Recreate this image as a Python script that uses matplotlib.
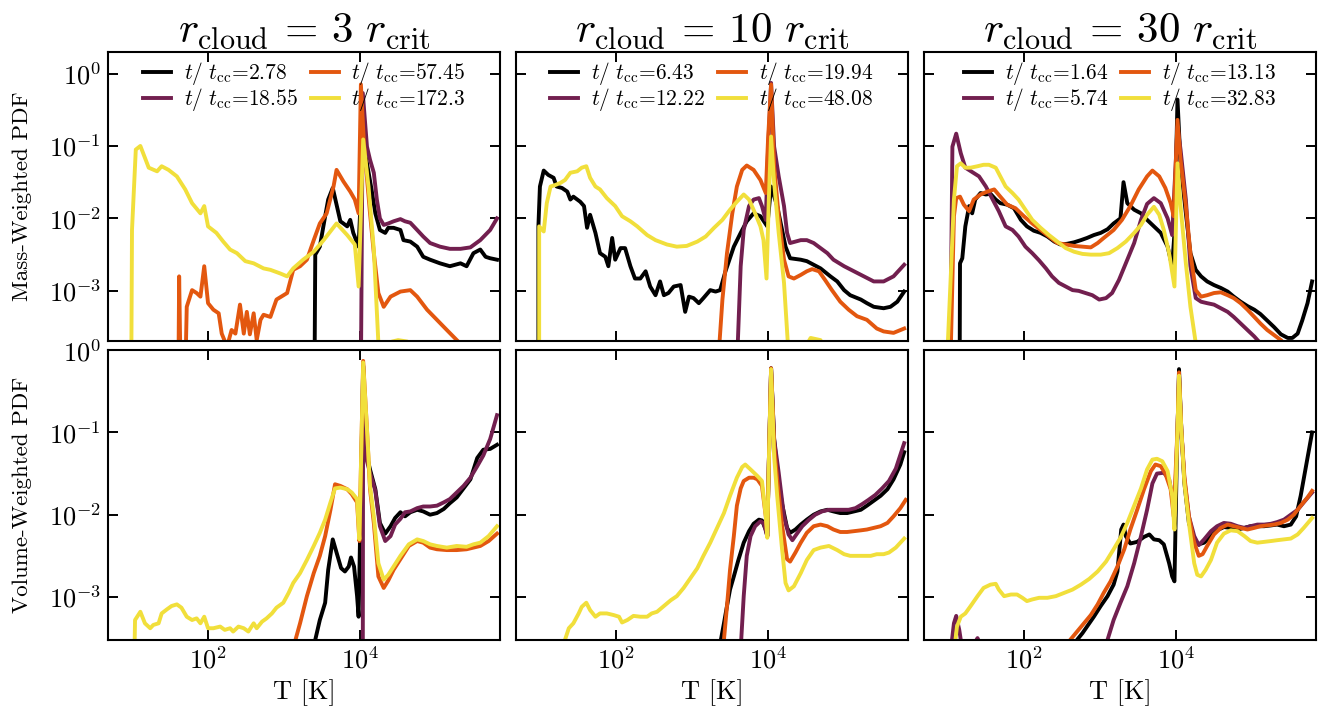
import numpy as np
import matplotlib
matplotlib.use('Agg')
import matplotlib.pyplot as plt
from matplotlib.ticker import NullLocator, LogLocator

plt.rcParams['font.family'] = 'serif'
plt.rcParams['font.serif'] = ['cmr10']
plt.rcParams['mathtext.fontset'] = 'cm'
plt.rcParams['axes.formatter.use_mathtext'] = True
plt.rcParams['axes.unicode_minus'] = False

# temperature PDFs, stored as (log10 T [K], log10 PDF) pairs
# ---- mass weighted ----
mw3_k = [(3.40,-4.2),(3.41,-2.50),(3.47,-2.39),(3.54,-1.97),(3.58,-1.74),(3.64,-1.58),(3.69,-1.81),(3.74,-2.04),
         (3.78,-2.07),(3.83,-2.11),(3.87,-2.02),(3.91,-2.20),(3.98,-2.39),(4.04,-0.96),(4.09,-1.24),(4.15,-1.60),
         (4.20,-1.93),(4.26,-2.16),(4.33,-2.20),(4.37,-2.13),(4.44,-2.13),(4.53,-2.16),(4.57,-2.30),(4.66,-2.32),
         (4.75,-2.39),(4.83,-2.53),(4.92,-2.57),(5.05,-2.62),(5.18,-2.66),(5.32,-2.62),(5.40,-2.66),(5.49,-2.48),
         (5.58,-2.43),(5.65,-2.53),(5.71,-2.55),(5.80,-2.57)]
mw3_p = [(4.01,-4.2),(4.035,-0.27),(4.09,-1.01),(4.13,-1.19),(4.18,-1.37),(4.22,-1.74),(4.26,-2.00),(4.31,-2.09),
         (4.37,-2.07),(4.44,-2.04),(4.53,-2.01),(4.59,-2.04),(4.66,-2.06),(4.75,-2.16),(4.83,-2.25),(4.92,-2.34),
         (5.05,-2.39),(5.18,-2.42),(5.32,-2.42),(5.45,-2.40),(5.58,-2.30),(5.71,-2.16),(5.80,-2.00)]
mw3_o = [(1.61,-4.2),(1.62,-2.80),(1.64,-4.2),(1.70,-4.2),(1.72,-3.22),(1.79,-2.99),(1.85,-3.03),(1.90,-3.08),
         (1.95,-2.66),(2.00,-3.17),(2.07,-3.26),(2.14,-3.31),(2.18,-3.59),(2.25,-3.77),(2.31,-3.54),(2.36,-3.59),
         (2.42,-3.19),(2.47,-3.59),(2.51,-3.29),(2.55,-3.60),(2.60,-3.31),(2.64,-3.68),(2.69,-3.40),(2.73,-3.33),
         (2.82,-3.36),(2.90,-3.12),(3.04,-3.03),(3.12,-2.71),(3.21,-2.66),(3.30,-2.57),(3.39,-2.30),(3.47,-2.07),
         (3.56,-1.93),(3.65,-1.56),(3.69,-1.33),(3.78,-1.49),(3.87,-1.63),(3.93,-1.74),(3.98,-1.93),(4.01,-0.15),
         (4.05,-0.96),(4.13,-1.93),(4.18,-2.48),(4.24,-3.03),(4.31,-3.22),(4.40,-3.08),(4.53,-3.01),(4.66,-2.99),
         (4.75,-3.08),(4.88,-3.26),(5.01,-3.40),(5.14,-3.54),(5.29,-3.70),(5.40,-3.82)]
mw3_y = [(0.99,-4.2),(1.00,-2.16),(1.05,-1.05),(1.11,-1.00),(1.22,-1.30),(1.33,-1.35),(1.39,-1.28),(1.48,-1.33),
         (1.59,-1.42),(1.70,-1.60),(1.79,-1.79),(1.90,-1.93),(1.95,-1.83),(2.00,-2.11),(2.11,-2.20),(2.20,-2.32),
         (2.29,-2.43),(2.38,-2.48),(2.49,-2.59),(2.60,-2.62),(2.73,-2.69),(2.82,-2.71),(2.95,-2.76),(3.04,-2.80),
         (3.12,-2.69),(3.25,-2.57),(3.39,-2.46),(3.52,-2.30),(3.69,-2.07),(3.83,-2.23),(3.93,-2.36),(3.98,-2.94),
         (4.04,-0.91),(4.11,-1.56),(4.18,-2.43),(4.24,-3.72),(4.31,-3.86),(4.42,-3.70),(4.50,-3.68),(4.62,-3.70),
         (4.70,-3.85),(4.80,-4.3)]

mw10_k = [(0.98,-4.2),(0.98,-2.11),(1.00,-1.56),(1.05,-1.34),(1.11,-1.40),(1.18,-1.44),(1.22,-1.56),(1.29,-1.58),
          (1.36,-1.63),(1.40,-1.74),(1.44,-1.70),(1.53,-1.77),(1.58,-1.83),(1.62,-2.13),(1.66,-1.95),(1.73,-2.20),
          (1.79,-2.48),(1.86,-2.53),(1.90,-2.66),(1.95,-2.27),(1.99,-2.57),(2.06,-2.41),(2.12,-2.41),(2.19,-2.66),
          (2.25,-2.83),(2.32,-2.83),(2.39,-2.73),(2.45,-2.94),(2.52,-3.06),(2.58,-2.87),(2.63,-3.06),(2.69,-3.03),
          (2.76,-2.94),(2.85,-2.92),(2.91,-3.29),(2.96,-3.08),(3.02,-3.10),(3.09,-3.17),(3.15,-3.10),(3.24,-2.99),
          (3.31,-3.01),(3.37,-2.99),(3.44,-2.73),(3.55,-2.39),(3.64,-2.20),(3.72,-2.04),(3.81,-1.93),(3.90,-1.97),
          (3.99,-2.11),(4.04,-1.56),(4.12,-1.83),(4.23,-2.39),(4.29,-2.55),(4.43,-2.57),(4.51,-2.59),(4.60,-2.64),
          (4.69,-2.69),(4.82,-2.80),(4.91,-2.87),(5.00,-2.99),(5.08,-3.06),(5.22,-3.12),(5.30,-3.17),(5.39,-3.22),
          (5.52,-3.24),(5.61,-3.22),(5.70,-3.15),(5.79,-3.01)]
mw10_p = [(3.585,-4.2),(3.64,-2.66),(3.68,-2.16),(3.75,-1.83),(3.81,-1.74),(3.88,-1.72),(3.92,-1.83),(3.97,-2.02),
          (4.00,-1.05),(4.04,-0.13),(4.08,-1.01),(4.14,-1.42),(4.21,-1.83),(4.25,-2.20),(4.29,-2.34),(4.36,-2.32),
          (4.43,-2.30),(4.51,-2.30),(4.60,-2.34),(4.69,-2.41),(4.78,-2.48),(4.86,-2.57),(5.00,-2.66),(5.13,-2.73),
          (5.26,-2.80),(5.39,-2.87),(5.52,-2.87),(5.65,-2.80),(5.79,-2.64)]
mw10_o = [(3.33,-4.2),(3.40,-3.12),(3.46,-2.48),(3.53,-1.93),(3.59,-1.56),(3.66,-1.33),(3.72,-1.27),(3.81,-1.33),
          (3.90,-1.47),(3.97,-1.65),(4.00,-0.91),(4.04,-0.15),(4.08,-1.28),(4.14,-1.97),(4.21,-2.57),(4.27,-2.80),
          (4.34,-2.83),(4.43,-2.78),(4.51,-2.73),(4.58,-2.70),(4.67,-2.73),(4.75,-2.85),(4.84,-2.99),(4.95,-3.15),
          (5.06,-3.26),(5.17,-3.35),(5.30,-3.40),(5.43,-3.52),(5.52,-3.56),(5.65,-3.58),(5.79,-3.52)]
mw10_y = [(0.99,-4.2),(0.99,-2.11),(1.05,-2.18),(1.09,-1.79),(1.14,-1.56),(1.20,-1.54),(1.27,-1.51),(1.33,-1.47),
          (1.40,-1.37),(1.49,-1.35),(1.55,-1.30),(1.61,-1.28),(1.66,-1.44),(1.73,-1.56),(1.79,-1.60),(1.88,-1.72),
          (1.99,-1.83),(2.08,-1.97),(2.19,-2.04),(2.28,-2.11),(2.41,-2.23),(2.52,-2.30),(2.67,-2.36),(2.80,-2.39),
          (2.93,-2.38),(3.07,-2.32),(3.18,-2.25),(3.29,-2.13),(3.40,-2.02),(3.50,-1.88),(3.59,-1.77),(3.68,-1.67),
          (3.75,-1.74),(3.83,-1.93),(3.90,-2.11),(3.94,-2.30),(3.98,-2.83),(4.01,-1.74),(4.04,-0.87),(4.08,-1.51),
          (4.14,-2.20),(4.21,-2.89),(4.26,-3.72),(4.34,-4.05),(4.56,-3.65),(4.69,-3.68),(4.82,-4.05)]

mw30_k = [(1.155,-4.2),(1.16,-2.62),(1.19,-2.55),(1.23,-2.11),(1.28,-1.83),(1.32,-1.93),(1.36,-1.74),(1.43,-1.65),
          (1.50,-1.67),(1.56,-1.66),(1.63,-1.74),(1.69,-1.79),(1.78,-1.81),(1.87,-1.86),(1.96,-2.02),(2.04,-2.11),
          (2.13,-2.17),(2.22,-2.20),(2.31,-2.25),(2.40,-2.32),(2.48,-2.36),(2.57,-2.35),(2.66,-2.33),(2.75,-2.30),
          (2.83,-2.27),(2.92,-2.23),(3.01,-2.20),(3.10,-2.15),(3.18,-2.07),(3.27,-2.00),(3.31,-1.50),(3.36,-1.79),
          (3.45,-1.88),(3.54,-1.93),(3.62,-2.02),(3.71,-2.11),(3.80,-2.20),(3.89,-2.39),(3.95,-2.66),(3.98,-2.20),
          (4.02,-0.36),(4.06,-1.24),(4.13,-1.93),(4.19,-2.48),(4.26,-2.71),(4.33,-2.80),(4.41,-2.87),(4.50,-2.92),
          (4.59,-2.96),(4.68,-3.01),(4.76,-3.08),(4.85,-3.15),(4.94,-3.21),(5.03,-3.26),(5.11,-3.32),(5.20,-3.41),
          (5.29,-3.50),(5.38,-3.60),(5.47,-3.65),(5.53,-3.65),(5.60,-3.59),(5.66,-3.41),(5.73,-3.17),(5.79,-2.87)]
mw30_p = [(1.03,-4.2),(1.06,-1.01),(1.11,-0.83),(1.17,-1.10),(1.23,-1.30),(1.32,-1.36),(1.41,-1.42),(1.50,-1.56),
          (1.58,-1.72),(1.67,-1.90),(1.76,-2.11),(1.85,-2.16),(1.93,-2.25),(2.02,-2.39),(2.11,-2.48),(2.20,-2.58),
          (2.29,-2.69),(2.37,-2.80),(2.46,-2.89),(2.55,-2.94),(2.64,-2.99),(2.72,-3.00),(2.81,-3.03),(2.90,-3.06),
          (2.99,-3.12),(3.08,-3.10),(3.16,-3.03),(3.25,-2.85),(3.36,-2.57),(3.45,-2.34),(3.54,-2.02),(3.62,-1.80),
          (3.71,-1.72),(3.80,-1.79),(3.89,-2.00),(3.95,-2.23),(4.02,-0.73),(4.06,-1.05),(4.13,-1.74),(4.19,-2.66),
          (4.26,-3.10),(4.33,-3.15),(4.41,-3.17),(4.50,-3.19),(4.59,-3.24),(4.68,-3.29),(4.76,-3.36),(4.85,-3.45),
          (4.94,-3.54),(5.03,-3.63),(5.09,-3.70),(5.20,-3.86)]
mw30_o = [(1.03,-4.2),(1.08,-1.97),(1.11,-1.72),(1.16,-1.70),(1.21,-1.81),(1.28,-1.90),(1.34,-1.74),(1.43,-1.67),
          (1.52,-1.63),(1.61,-1.60),(1.69,-1.70),(1.78,-1.81),(1.89,-1.86),(2.00,-1.97),(2.11,-2.07),(2.22,-2.16),
          (2.33,-2.25),(2.44,-2.34),(2.55,-2.36),(2.66,-2.38),(2.77,-2.39),(2.88,-2.40),(2.97,-2.34),(3.05,-2.27),
          (3.18,-2.16),(3.29,-2.02),(3.40,-1.83),(3.51,-1.60),(3.62,-1.42),(3.69,-1.34),(3.78,-1.42),(3.86,-1.58),
          (3.93,-1.79),(3.97,-1.97),(4.02,-0.64),(4.06,-1.19),(4.13,-1.83),(4.19,-2.48),(4.26,-2.99),(4.33,-3.08),
          (4.41,-3.06),(4.50,-3.03),(4.59,-3.02),(4.68,-3.06),(4.76,-3.10),(4.85,-3.17),(4.94,-3.26),(5.03,-3.36),
          (5.11,-3.45),(5.20,-3.54),(5.29,-3.61),(5.38,-3.68),(5.47,-3.77),(5.60,-3.90)]
mw30_y = [(0.98,-4.2),(1.04,-2.76),(1.08,-1.74),(1.12,-1.28),(1.17,-1.24),(1.23,-1.30),(1.30,-1.30),(1.39,-1.28),
          (1.47,-1.26),(1.54,-1.26),(1.63,-1.30),(1.69,-1.42),(1.76,-1.56),(1.85,-1.65),(1.93,-1.74),(2.02,-1.88),
          (2.11,-2.02),(2.22,-2.13),(2.33,-2.23),(2.44,-2.32),(2.55,-2.41),(2.66,-2.46),(2.77,-2.49),(2.88,-2.50),
          (3.01,-2.50),(3.12,-2.48),(3.23,-2.41),(3.34,-2.32),(3.45,-2.20),(3.54,-2.09),(3.62,-1.95),(3.71,-1.84),
          (3.78,-1.95),(3.84,-2.16),(3.91,-2.48),(3.98,-2.94),(4.02,-1.24),(4.06,-1.83),(4.13,-2.62),(4.19,-3.22),
          (4.26,-3.72),(4.33,-4.14)]

# ---- volume weighted ----
vw3_k = [(3.40,-3.8),(3.41,-3.52),(3.47,-3.28),(3.54,-3.07),(3.58,-2.67),(3.64,-2.30),(3.69,-2.46),(3.75,-2.65),
         (3.80,-2.69),(3.85,-2.63),(3.88,-2.52),(3.92,-2.63),(3.96,-2.99),(3.98,-3.24),(4.04,-0.19),(4.09,-1.29),
         (4.13,-1.45),(4.20,-1.69),(4.26,-2.10),(4.33,-2.23),(4.40,-2.14),(4.46,-2.04),(4.53,-1.97),(4.59,-2.02),
         (4.66,-1.97),(4.75,-1.94),(4.83,-1.96),(4.92,-2.00),(5.01,-1.98),(5.10,-1.93),(5.18,-1.86),(5.27,-1.79),
         (5.36,-1.68),(5.45,-1.57),(5.54,-1.31),(5.62,-1.21),(5.71,-1.20),(5.80,-1.15)]
vw3_p = [(4.035,-3.8),(4.04,-0.19),(4.09,-1.35),(4.13,-1.49),(4.20,-1.71),(4.26,-2.14),(4.33,-2.32),(4.40,-2.26),
         (4.46,-2.12),(4.53,-2.05),(4.59,-1.97),(4.66,-1.96),(4.75,-1.92),(4.83,-1.90),(4.92,-1.90),(5.01,-1.89),
         (5.10,-1.85),(5.18,-1.81),(5.27,-1.73),(5.36,-1.65),(5.45,-1.55),(5.54,-1.41),(5.62,-1.28),(5.71,-1.08),
         (5.80,-0.79)]
vw3_o = [(3.10,-3.8),(3.15,-3.52),(3.21,-3.32),(3.30,-2.99),(3.39,-2.71),(3.47,-2.50),(3.54,-2.26),(3.61,-1.94),
         (3.67,-1.63),(3.74,-1.65),(3.83,-1.69),(3.89,-1.75),(3.96,-1.85),(3.99,-2.32),(4.04,-0.13),(4.09,-0.96),
         (4.13,-1.69),(4.18,-2.10),(4.24,-2.75),(4.31,-2.89),(4.37,-2.80),(4.44,-2.67),(4.53,-2.54),(4.64,-2.38),
         (4.75,-2.32),(4.83,-2.34),(4.92,-2.40),(5.01,-2.42),(5.14,-2.43),(5.27,-2.43),(5.40,-2.42),(5.49,-2.40),
         (5.58,-2.38),(5.69,-2.32),(5.80,-2.23)]
vw3_y = [(1.03,-3.8),(1.04,-3.28),(1.11,-3.18),(1.17,-3.32),(1.24,-3.38),(1.28,-3.34),(1.35,-3.32),(1.39,-3.20),
         (1.46,-3.15),(1.52,-3.11),(1.59,-3.09),(1.65,-3.13),(1.72,-3.24),(1.79,-3.28),(1.85,-3.26),(1.90,-3.32),
         (1.95,-3.24),(2.00,-3.38),(2.07,-3.38),(2.16,-3.36),(2.22,-3.40),(2.29,-3.38),(2.33,-3.42),(2.40,-3.36),
         (2.47,-3.38),(2.53,-3.42),(2.60,-3.32),(2.64,-3.38),(2.71,-3.30),(2.77,-3.26),(2.84,-3.20),(2.90,-3.13),
         (2.99,-3.07),(3.06,-2.95),(3.12,-2.83),(3.21,-2.71),(3.30,-2.55),(3.39,-2.38),(3.47,-2.22),(3.54,-2.06),
         (3.61,-1.85),(3.67,-1.68),(3.74,-1.67),(3.83,-1.69),(3.89,-1.73),(3.96,-1.81),(3.99,-2.30),(4.04,-0.15),
         (4.09,-0.96),(4.13,-1.65),(4.18,-2.02),(4.24,-2.59),(4.31,-2.79),(4.37,-2.73),(4.44,-2.63),(4.53,-2.50),
         (4.64,-2.36),(4.75,-2.30),(4.83,-2.32),(4.92,-2.36),(5.01,-2.38),(5.14,-2.40),(5.27,-2.38),(5.40,-2.39),
         (5.49,-2.36),(5.58,-2.34),(5.69,-2.26),(5.80,-2.14)]

vw10_k = [(3.36,-3.8),(3.38,-3.52),(3.42,-3.32),(3.46,-3.11),(3.50,-2.91),(3.55,-2.75),(3.61,-2.55),(3.68,-2.34),
          (3.75,-2.20),(3.81,-2.11),(3.88,-2.06),(3.92,-2.07),(3.97,-2.18),(3.99,-2.26),(4.01,-1.37),(4.04,-0.22),
          (4.08,-1.08),(4.12,-1.45),(4.18,-1.85),(4.25,-2.16),(4.29,-2.22),(4.36,-2.18),(4.43,-2.12),(4.51,-2.06),
          (4.60,-2.00),(4.69,-1.96),(4.78,-1.94),(4.86,-1.96),(4.95,-1.98),(5.04,-1.98),(5.13,-1.96),(5.22,-1.94),
          (5.30,-1.89),(5.39,-1.83),(5.48,-1.77),(5.57,-1.69),(5.65,-1.57),(5.74,-1.39),(5.79,-1.24)]
vw10_p = [(3.63,-3.8),(3.68,-2.99),(3.72,-2.50),(3.77,-2.26),(3.83,-2.14),(3.90,-2.08),(3.94,-2.10),(3.99,-2.26),
          (4.01,-1.37),(4.04,-0.22),(4.08,-1.08),(4.14,-1.49),(4.21,-2.02),(4.27,-2.24),(4.32,-2.31),(4.38,-2.23),
          (4.45,-2.14),(4.54,-2.06),(4.62,-2.00),(4.71,-1.96),(4.80,-1.94),(4.89,-1.94),(4.97,-1.94),(5.06,-1.94),
          (5.15,-1.92),(5.24,-1.87),(5.32,-1.82),(5.41,-1.76),(5.50,-1.68),(5.59,-1.59),(5.68,-1.44),(5.79,-1.13)]
vw10_o = [(3.39,-3.8),(3.42,-3.52),(3.46,-3.11),(3.50,-2.67),(3.55,-2.26),(3.59,-1.89),(3.64,-1.68),(3.68,-1.59),
          (3.75,-1.55),(3.81,-1.55),(3.86,-1.57),(3.92,-1.65),(3.97,-2.02),(3.99,-2.26),(4.01,-1.37),(4.04,-0.22),
          (4.08,-1.16),(4.12,-1.57),(4.18,-2.10),(4.25,-2.54),(4.29,-2.57),(4.36,-2.46),(4.43,-2.34),(4.51,-2.22),
          (4.60,-2.14),(4.69,-2.12),(4.78,-2.14),(4.86,-2.18),(4.95,-2.21),(5.04,-2.21),(5.13,-2.20),(5.22,-2.19),
          (5.30,-2.18),(5.39,-2.16),(5.48,-2.14),(5.57,-2.10),(5.65,-2.02),(5.74,-1.92),(5.81,-1.82)]
vw10_y = [(1.30,-3.8),(1.33,-3.52),(1.38,-3.38),(1.44,-3.32),(1.51,-3.20),(1.55,-3.12),(1.61,-3.07),(1.66,-3.16),
          (1.73,-3.24),(1.79,-3.20),(1.88,-3.20),(1.97,-3.22),(2.04,-3.24),(2.08,-3.31),(2.15,-3.28),(2.23,-3.23),
          (2.32,-3.24),(2.41,-3.24),(2.47,-3.20),(2.54,-3.18),(2.63,-3.11),(2.72,-3.04),(2.80,-2.99),(2.89,-2.89),
          (2.98,-2.77),(3.07,-2.65),(3.15,-2.50),(3.24,-2.34),(3.33,-2.16),(3.42,-1.98),(3.50,-1.77),(3.59,-1.55),
          (3.66,-1.42),(3.70,-1.39),(3.77,-1.45),(3.86,-1.53),(3.92,-1.59),(3.97,-2.02),(3.99,-2.28),(4.01,-1.37),
          (4.04,-0.23),(4.08,-1.29),(4.12,-1.77),(4.18,-2.38),(4.23,-2.83),(4.27,-2.92),(4.34,-2.87),(4.43,-2.71),
          (4.51,-2.55),(4.60,-2.43),(4.69,-2.40),(4.80,-2.38),(4.91,-2.43),(5.00,-2.48),(5.08,-2.50),(5.22,-2.50),
          (5.35,-2.50),(5.43,-2.48),(5.52,-2.48),(5.59,-2.46),(5.68,-2.40),(5.79,-2.29)]

vw30_k = [(2.68,-3.8),(2.70,-3.52),(2.77,-3.44),(2.83,-3.36),(2.92,-3.24),(3.01,-3.11),(3.10,-2.99),(3.18,-2.85),
          (3.23,-2.69),(3.28,-2.18),(3.31,-2.12),(3.34,-2.26),(3.40,-2.35),(3.49,-2.33),(3.58,-2.27),(3.65,-2.24),
          (3.71,-2.30),(3.78,-2.31),(3.84,-2.36),(3.91,-2.59),(3.95,-2.75),(3.98,-2.81),(4.01,-1.37),(4.04,-0.23),
          (4.07,-0.96),(4.11,-1.61),(4.17,-2.10),(4.24,-2.30),(4.30,-2.36),(4.37,-2.34),(4.46,-2.26),(4.54,-2.19),
          (4.63,-2.15),(4.72,-2.16),(4.81,-2.18),(4.90,-2.16),(4.98,-2.14),(5.07,-2.14),(5.16,-2.14),(5.25,-2.13),
          (5.33,-2.12),(5.42,-2.14),(5.51,-2.12),(5.58,-2.02),(5.64,-1.77),(5.71,-1.41),(5.79,-1.00)]
vw30_p = [(1.02,-3.8),(1.08,-3.32),(1.11,-3.23),(1.15,-3.40),(1.19,-3.64),(1.25,-3.72),(1.39,-3.50),(1.50,-3.72),
          (1.90,-4.2),(3.00,-3.80),(3.10,-3.52),(3.18,-3.28),(3.27,-3.07),(3.36,-2.87),(3.45,-2.59),(3.54,-2.26),
          (3.62,-1.94),(3.69,-1.62),(3.75,-1.50),(3.84,-1.49),(3.91,-1.57),(3.95,-1.77),(3.98,-2.02),(4.02,-0.96),
          (4.04,-0.31),(4.07,-0.96),(4.11,-1.57),(4.17,-2.02),(4.24,-2.26),(4.30,-2.37),(4.37,-2.30),(4.46,-2.20),
          (4.54,-2.14),(4.63,-2.10),(4.72,-2.11),(4.81,-2.14),(4.90,-2.16),(4.98,-2.14),(5.07,-2.12),(5.16,-2.12),
          (5.25,-2.11),(5.33,-2.09),(5.42,-2.06),(5.51,-2.00),(5.60,-1.94),(5.68,-1.85),(5.79,-1.73)]
vw30_o = [(2.58,-3.8),(2.61,-3.52),(2.70,-3.42),(2.79,-3.32),(2.88,-3.22),(2.97,-3.09),(3.05,-2.95),(3.14,-2.81),
          (3.23,-2.63),(3.32,-2.42),(3.40,-2.18),(3.49,-1.94),(3.58,-1.69),(3.67,-1.47),(3.73,-1.39),(3.80,-1.41),
          (3.86,-1.50),(3.93,-1.69),(3.97,-2.02),(4.02,-0.96),(4.04,-0.27),(4.07,-0.96),(4.11,-1.53),(4.17,-2.02),
          (4.24,-2.34),(4.30,-2.50),(4.35,-2.48),(4.41,-2.38),(4.50,-2.24),(4.59,-2.16),(4.68,-2.12),(4.76,-2.14),
          (4.85,-2.16),(4.94,-2.18),(5.03,-2.16),(5.11,-2.14),(5.20,-2.13),(5.29,-2.12),(5.38,-2.10),(5.47,-2.06),
          (5.55,-2.00),(5.64,-1.89),(5.73,-1.79),(5.79,-1.71)]
vw30_y = [(1.09,-3.8),(1.10,-3.52),(1.12,-3.36),(1.17,-3.24),(1.23,-3.20),(1.30,-3.11),(1.39,-2.99),(1.47,-2.89),
          (1.56,-2.85),(1.63,-2.84),(1.67,-2.91),(1.74,-2.99),(1.83,-2.97),(1.91,-2.97),(1.98,-3.01),(2.04,-3.05),
          (2.11,-3.03),(2.20,-3.01),(2.31,-3.01),(2.42,-2.99),(2.53,-2.95),(2.64,-2.91),(2.75,-2.85),(2.86,-2.78),
          (2.97,-2.69),(3.08,-2.57),(3.18,-2.42),(3.27,-2.28),(3.36,-2.10),(3.45,-1.89),(3.54,-1.68),(3.62,-1.45),
          (3.69,-1.33),(3.75,-1.32),(3.82,-1.35),(3.89,-1.47),(3.95,-1.77),(3.98,-2.18),(4.02,-0.96),(4.04,-0.31),
          (4.07,-0.96),(4.11,-1.61),(4.17,-2.10),(4.24,-2.59),(4.28,-2.73),(4.33,-2.75),(4.39,-2.67),(4.46,-2.55),
          (4.54,-2.34),(4.63,-2.23),(4.72,-2.19),(4.81,-2.20),(4.90,-2.26),(4.98,-2.32),(5.07,-2.34),(5.16,-2.33),
          (5.25,-2.32),(5.33,-2.31),(5.42,-2.30),(5.51,-2.29),(5.60,-2.24),(5.68,-2.16),(5.79,-2.04)]

# snapshot times (t / t_cc) for each cloud size
times_r3 = ['2.78', '18.55', '57.45', '172.3']
times_r10 = ['6.43', '12.22', '19.94', '48.08']
times_r30 = ['1.64', '5.74', '13.13', '32.83']
r_cloud = [3, 10, 30]

colors = ['#000000', '#721f4f', '#e3570f', '#f1df3b']

mass = [[mw3_k, mw3_p, mw3_o, mw3_y],
        [mw10_k, mw10_p, mw10_o, mw10_y],
        [mw30_k, mw30_p, mw30_o, mw30_y]]
vol = [[vw3_k, vw3_p, vw3_o, vw3_y],
       [vw10_k, vw10_p, vw10_o, vw10_y],
       [vw30_k, vw30_p, vw30_o, vw30_y]]
times = [times_r3, times_r10, times_r30]

fig, axes = plt.subplots(2, 3, figsize=(13.28, 7.13), dpi=100)
fig.subplots_adjust(left=0.0813, right=0.991, top=0.9275, bottom=0.1024, hspace=0.03, wspace=0.04)


def draw(ax, curves, tt):
    for pts, c, t in zip(curves, colors, tt):
        lt, lp = np.array(pts).T
        ax.plot(10**lt, 10**lp, color=c, lw=2.8, label=r'$t/\ t_{\rm cc}$=' + t)


for j in range(3):
    draw(axes[0, j], mass[j], times[j])
    draw(axes[1, j], vol[j], times[j])
    axes[0, j].set_title(r'$r_{\rm cloud}\,=\,%d\ r_{\rm crit}$' % r_cloud[j], fontsize=31, pad=6)
    axes[0, j].legend(loc='upper center', ncol=2, frameon=False, fontsize=15.5, handlelength=1.3,
                      columnspacing=0.6, labelspacing=-0.05, handletextpad=0.6, borderaxespad=0.0)
    axes[1, j].set_xlabel('T [K]', fontsize=19)

for ax in axes.flat:
    ax.set_xscale('log')
    ax.set_yscale('log')
    ax.set_xlim(10**0.684, 10**5.842)
    ax.set_xticks([1e2, 1e4])
    ax.xaxis.set_minor_locator(NullLocator())
    ax.yaxis.set_major_locator(LogLocator(base=10, numticks=10))
    ax.yaxis.set_minor_locator(NullLocator())
    ax.tick_params(which='both', direction='in', top=True, right=True, length=7, width=1.4,
                   labelsize=19, pad=5)
    for s in ax.spines.values():
        s.set_linewidth(1.5)

for j in range(3):
    axes[0, j].set_ylim(2e-4, 2)
    axes[1, j].set_ylim(3e-4, 1)
    axes[0, j].tick_params(labelbottom=False)
    if j > 0:
        axes[0, j].tick_params(labelleft=False)
        axes[1, j].tick_params(labelleft=False)

axes[0, 0].set_ylabel('Mass-Weighted PDF', fontsize=16.5, labelpad=12)
axes[1, 0].set_ylabel('Volume-Weighted PDF', fontsize=16.5, labelpad=12)

fig.savefig('out.png', dpi=100)
